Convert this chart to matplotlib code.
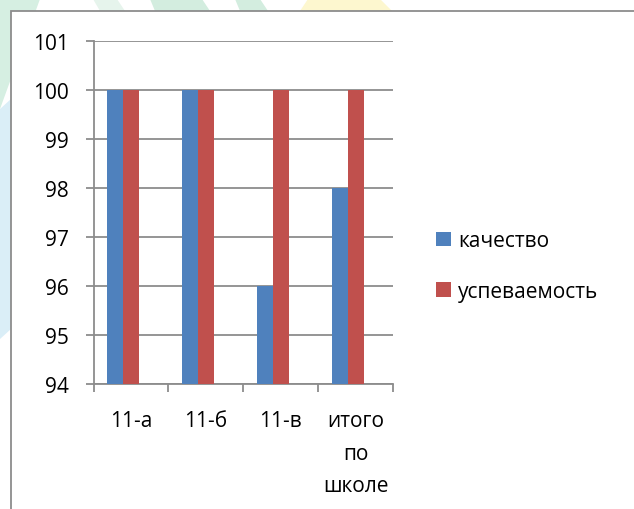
import matplotlib
matplotlib.use("Agg")
import matplotlib.pyplot as plt
from matplotlib.patches import Rectangle, Polygon
import numpy as np

# data
categories = ["11-а", "11-б", "11-в", "итого\nпо\nшколе"]
kachestvo = [100, 100, 96, 98]
uspevaemost = [100, 100, 100, 100]
series_names = ["качество", "успеваемость"]
y_ticks = [94, 95, 96, 97, 98, 99, 100, 101]

plt.rcParams['font.family'] = ['Open Sans', 'DejaVu Sans']

W, H = 634, 510
fig = plt.figure(figsize=(W / 100, H / 100), dpi=100)
fig.patch.set_facecolor('white')


def px(points):
    # pixel coords (from top-left) -> figure fraction
    return [(x / W, 1 - y / H) for x, y in points]


# faint page decoration peeking out around the chart frame
deco = [
    ([(0, 0), (40, 0), (0, 110)], '#d6efe2'),
    ([(0, 110), (11, 100), (11, 330), (0, 340)], '#daeef7'),
    ([(93, 0), (117, 0), (125, 12), (100, 12)], '#e6f4ec'),
    ([(150, 0), (202, 0), (210, 12), (155, 12)], '#d3eddf'),
    ([(235, 0), (260, 0), (268, 12), (240, 12)], '#d3eddf'),
    ([(308, 0), (380, 0), (392, 12), (300, 12)], '#fdf7cf'),
]
for pts, c in deco:
    fig.patches.append(Polygon(px(pts), closed=True, transform=fig.transFigure,
                               facecolor=c, edgecolor='none', zorder=-3))

# outer chart frame (runs off the image on the right and bottom)
frame = Rectangle((11 / W, -0.05), 1.1, 1 - 12 / H + 0.05, transform=fig.transFigure,
                  facecolor='white', edgecolor='#8c8c8c', linewidth=1.3,
                  clip_on=False, zorder=-1)
fig.patches.append(frame)

ax = fig.add_axes([93.5 / W, 1 - 385 / H, (393.3 - 93.5) / W, (385 - 41.7) / H])
ax.set_facecolor('none')

x = np.arange(len(categories))
bw = 0.218
ax.bar(x - 0.213, kachestvo, width=bw, color='#4F81BD', label=series_names[0], zorder=3)
ax.bar(x, uspevaemost, width=bw, color='#C0504D', label=series_names[1], zorder=3)

ax.set_ylim(94, 101)
ax.set_yticks(y_ticks)
ax.set_xlim(-0.5, len(categories) - 0.5)
ax.set_xticks(np.arange(len(categories) + 1) - 0.5)
ax.set_xticklabels([])
ax.set_xticks(x, minor=True)
ax.set_xticklabels(categories, minor=True, linespacing=1.72)

ax.grid(axis='y', color='#8c8c8c', linewidth=1.3, zorder=0)
for s in ['top', 'right']:
    ax.spines[s].set_visible(False)
for s in ['left', 'bottom']:
    ax.spines[s].set_color('#8c8c8c')
    ax.spines[s].set_linewidth(1.3)

ax.tick_params(axis='y', which='major', direction='out', length=6, width=1.3,
               color='#8c8c8c', labelsize=15, pad=12)
ax.tick_params(axis='x', which='major', direction='out', length=6, width=1.3,
               color='#8c8c8c')
ax.tick_params(axis='x', which='minor', length=0, labelsize=15, pad=19)

fig.legend(loc='center left', bbox_to_anchor=(428 / W, 1 - 267 / H), frameon=False,
           fontsize=15, handlelength=0.7, handleheight=0.7, handletextpad=0.35,
           labelspacing=1.4, borderaxespad=0)

fig.savefig('out.png', dpi=100)
